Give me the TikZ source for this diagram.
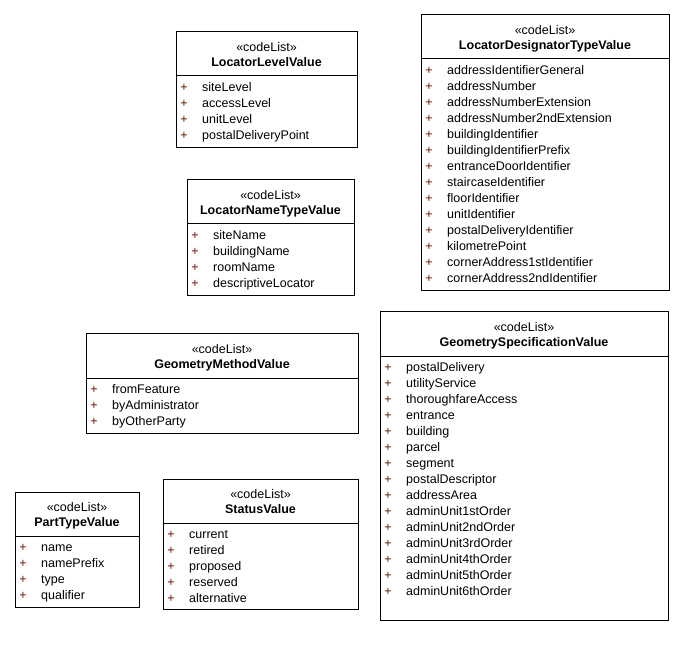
\documentclass[tikz,border=0pt]{standalone}
\usepackage{fontspec}
\setmainfont{Liberation Sans}
\usetikzlibrary{fit}
\definecolor{plusred}{HTML}{6A1400}
\tikzset{
  clsbox/.style={rectangle, draw=black, line width=1pt, inner sep=0pt},
  sepline/.style={draw=black, line width=1pt},
  stereo/.style={font=\fontsize{12.5}{14}\selectfont, inner sep=0pt, anchor=base},
  clsname/.style={font=\fontsize{12.5}{14}\selectfont\bfseries, inner sep=0pt, anchor=base},
  attr/.style={font=\fontsize{12.5}{14}\selectfont, inner sep=0pt, anchor=base west},
  pluschar/.style={font=\fontsize{12.5}{14}\selectfont, text=plusred, inner sep=0pt, anchor=base}
}
% #1 name, #2 left, #3 top, #4 right, #5 bottom, #6 title, #7 values
\newcommand{\codelistbox}[7]{%
  \node[clsbox, fit={(#2,#3) (#4,#5)}] (#1) {};
  \draw[sepline] (#2,#3+44) -- (#4,#3+44);
  \node[stereo] (#1-st) at ({(#2+#4)/2},#3+19.5) {«codeList»};
  \node[clsname] (#1-nm) at ({(#2+#4)/2},#3+34.5) {#6};
  \foreach \v [count=\i] in {#7} {
    \node[pluschar] (#1-p\i) at (#2+8,#3+59.5+16*\i-16) {+};
    \node[attr] (#1-a\i) at (#2+26,#3+59.5+16*\i-16) {\v};
  }%
}

\begin{document}
\begin{tikzpicture}[x=1pt, y=-1pt]
\useasboundingbox (0,0) rectangle (686,647);

\codelistbox{llv}{176}{32}{357}{148}{LocatorLevelValue}
  {siteLevel,accessLevel,unitLevel,postalDeliveryPoint}

\codelistbox{ldtv}{421}{15}{669}{291}{LocatorDesignatorTypeValue}
  {addressIdentifierGeneral,addressNumber,addressNumberExtension,
   addressNumber2ndExtension,buildingIdentifier,buildingIdentifierPrefix,
   entranceDoorIdentifier,staircaseIdentifier,floorIdentifier,unitIdentifier,
   postalDeliveryIdentifier,kilometrePoint,cornerAddress1stIdentifier,
   cornerAddress2ndIdentifier}

\codelistbox{lntv}{187}{180}{354}{296}{LocatorNameTypeValue}
  {siteName,buildingName,roomName,descriptiveLocator}

\codelistbox{gmv}{86}{334}{358}{433}{GeometryMethodValue}
  {fromFeature,byAdministrator,byOtherParty}

\codelistbox{gsv}{380}{312}{668}{620}{GeometrySpecificationValue}
  {postalDelivery,utilityService,thoroughfareAccess,entrance,building,parcel,
   segment,postalDescriptor,addressArea,adminUnit1stOrder,adminUnit2ndOrder,
   adminUnit3rdOrder,adminUnit4thOrder,adminUnit5thOrder,adminUnit6thOrder}

\codelistbox{ptv}{15}{492}{139}{607}{PartTypeValue}
  {name,namePrefix,type,qualifier}

\codelistbox{sv}{163}{479}{358}{609}{StatusValue}
  {current,retired,proposed,reserved,alternative}
\end{tikzpicture}
\end{document}
